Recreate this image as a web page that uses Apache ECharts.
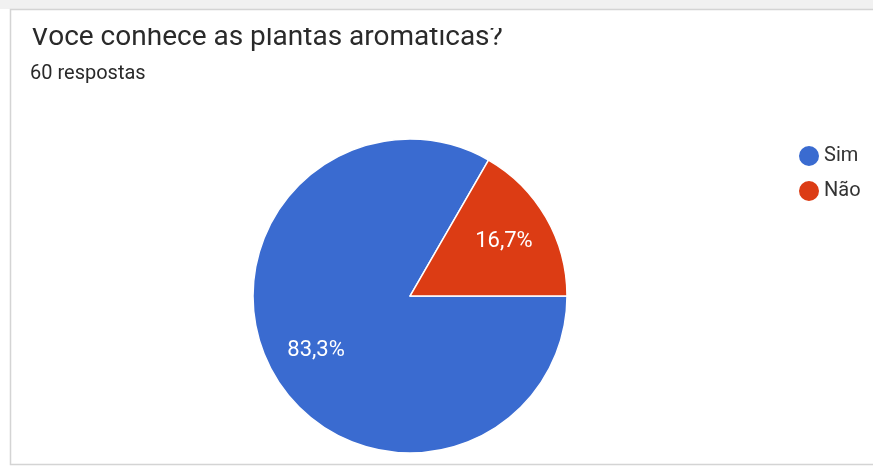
<!DOCTYPE html>
<html>
<head>
<meta charset="utf-8">
<script src="https://cdn.jsdelivr.net/npm/echarts@6/dist/echarts.min.js"></script>
<style>
html,body{margin:0;padding:0;background:#fff;}
#chart{width:873px;height:468px;}
</style>
</head>
<body>
<div id="chart"></div>
<script>
const categories = ['Sim', 'Não'];
const values = [50, 10];
const colors = ['#3a6bd0', '#dc3c14'];
const titleText = 'Você conhece as plantas aromáticas?';
const subtitleText = '60 respostas';

const data = categories.map((c, i) => ({ name: c, value: values[i], itemStyle: { color: colors[i] } }));
const fmt = p => p.percent.toFixed(1).replace('.', ',') + '%';

const chart = echarts.init(document.getElementById('chart'));
chart.setOption({
  animation: false,
  backgroundColor: '#ffffff',
  graphic: [
    { type: 'rect', z: 0, shape: { x: 0, y: 0, width: 873, height: 9 }, style: { fill: '#f1f1f1' } },
    { type: 'rect', z: 1, shape: { x: 10.5, y: 9.5, width: 880, height: 455 },
      style: { fill: '#ffffff', stroke: '#d4d4d4', lineWidth: 1.5 } },
    { type: 'rect', z: 100, zlevel: 1, shape: { x: 12, y: 11, width: 860, height: 17 }, style: { fill: '#ffffff' } }
  ],
  title: [
    { text: titleText, left: 26, top: 19, textStyle: { fontFamily: 'Roboto', fontSize: 28, fontWeight: 'normal', color: '#2a2a2a' } },
    { text: subtitleText, left: 25, top: 59, textStyle: { fontFamily: 'Roboto', fontSize: 20, fontWeight: 'normal', color: '#2a2a2a' } }
  ],
  legend: {
    orient: 'vertical',
    left: 792,
    top: 139,
    icon: 'circle',
    itemWidth: 22,
    itemHeight: 22,
    itemGap: 11,
    data: categories,
    textStyle: { fontFamily: 'Roboto', fontSize: 20, color: '#333', padding: [0, 0, 0, -1] }
  },
  series: [
    {
      type: 'pie',
      center: [410, 296],
      radius: [0, 157],
      startAngle: 0,
      clockwise: true,
      data: data,
      itemStyle: { borderColor: '#ffffff', borderWidth: 1.5 },
      label: { show: false },
      labelLine: { show: false },
      emphasis: { disabled: true }
    },
    {
      type: 'pie',
      center: [410, 296],
      radius: [100, 111],
      startAngle: 0,
      clockwise: true,
      silent: true,
      legendHoverLink: false,
      data: categories.map((c, i) => ({ name: c, value: values[i] })),
      itemStyle: { color: 'rgba(0,0,0,0)' },
      label: { show: true, position: 'inside', formatter: fmt, color: '#ffffff', fontFamily: 'Roboto', fontSize: 22 },
      labelLine: { show: false },
      emphasis: { disabled: true }
    }
  ]
});
</script>
</body>
</html>
